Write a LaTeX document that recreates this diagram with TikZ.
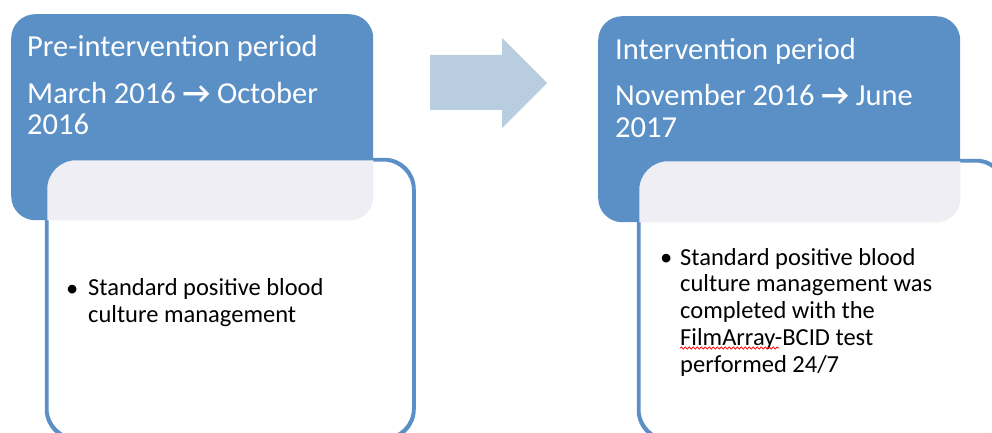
\documentclass[tikz,border=0pt]{standalone}
\usepackage{fontspec}
\setmainfont{Carlito}
\usetikzlibrary{decorations.pathmorphing}
\definecolor{headblue}{RGB}{91,144,199}
\definecolor{overlapgrey}{RGB}{239,238,244}
\definecolor{arrowblue}{RGB}{185,205,224}

\begin{document}
\begin{tikzpicture}[x=1pt,y=-1pt,
		headbox/.style={fill=headblue, rounded corners=24pt, anchor=north west, minimum width=362pt, minimum height=206pt, inner sep=0pt},
		bodybox/.style={draw=headblue, line width=2.5pt, fill=white, rounded corners=30pt, anchor=north west, minimum width=366pt, minimum height=278pt, inner sep=0pt},
		headtext/.style={white, font=\fontsize{30.5}{32}\selectfont, anchor=base west, inner sep=0pt, align=left},
		bodytext/.style={black, font=\fontsize{24.5}{26.7}\selectfont, anchor=base west, inner sep=0pt, align=left}]
			\useasboundingbox (0,0) rectangle (992,433);
			\node [headbox] (preHead) at (11,14) {};
			\node [headbox] (postHead) at (598,16) {};
			\node [bodybox] (preBody) at (46,159) {};
			\node [bodybox] (postBody) at (638,160) {};
			\begin{scope}
				\clip [rounded corners=24pt] (preHead.north west) rectangle (preHead.south east);
				\fill [overlapgrey, rounded corners=30pt] (preBody.north west) rectangle (preBody.south east);
			\end{scope}
			\begin{scope}
				\clip [rounded corners=24pt] (postHead.north west) rectangle (postHead.south east);
				\fill [overlapgrey, rounded corners=30pt] (postBody.north west) rectangle (postBody.south east);
			\end{scope}
			\draw [headblue, line width=2.5pt, rounded corners=30pt] (preBody.north west) rectangle (preBody.south east);
			\draw [headblue, line width=2.5pt, rounded corners=30pt] (postBody.north west) rectangle (postBody.south east);
			\fill [arrowblue] (430,55) -- (502,55) -- (502,38) -- (547,83) -- (502,128) -- (502,110) -- (430,110) -- cycle;
			% base anchor of a multi-line node sits on its last line
			\node [headtext] (preTitle) at (27,57) {Pre-intervention period};
			\node [headtext] (preDates) at (27,135) {March 2016 \textbf{→} October\\2016};
			\node [headtext] (postTitle) at (615,60) {Intervention period};
			\node [headtext] (postDates) at (615,137) {November 2016 \textbf{→} June\\2017};
			\node [bodytext] (preBullet) at (66,296) {•};
			\node [bodytext] (preText) at (88,322) {Standard positive blood\\culture management};
			\node [bodytext] (postBullet) at (660,265) {•};
			\node [bodytext] (postText) at (680,372) {Standard positive blood\\culture management was\\completed with the\\FilmArray-BCID test\\performed 24/7};
			\draw [red, line width=0.7pt, decorate, decoration={snake, amplitude=1.1pt, segment length=4pt}] (680,348) -- (779,348);
		\end{tikzpicture}
\end{document}
